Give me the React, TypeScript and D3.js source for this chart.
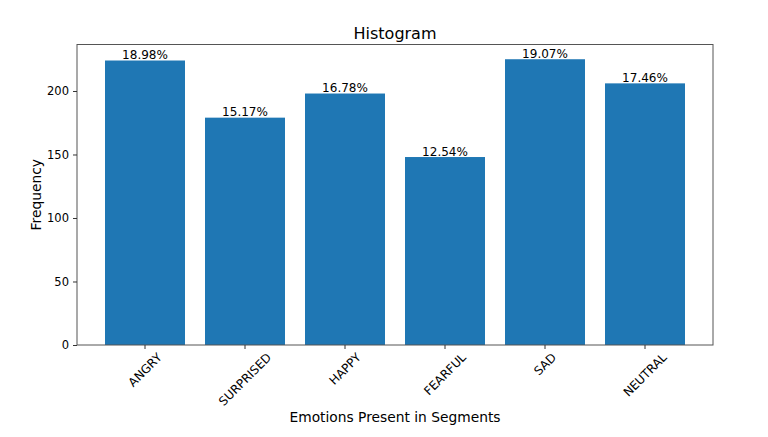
import { useEffect, useRef } from "react";
import * as d3 from "d3";

const emotions = ["ANGRY", "SURPRISED", "HAPPY", "FEARFUL", "SAD", "NEUTRAL"];
const counts = [224, 179, 198, 148, 225, 206];
const percentLabels = ["18.98%", "15.17%", "16.78%", "12.54%", "19.07%", "17.46%"];
const yTicks = [0, 50, 100, 150, 200];

const W = 768;
const H = 437;
const left = 77;
const right = 713;
const top = 44.5;
const bottom = 345;
const font = "DejaVu Sans, sans-serif";

const Histogram = () => {
  const svgRef = useRef<SVGSVGElement>(null);

  useEffect(() => {
    const svg = d3.select(svgRef.current);
    svg.selectAll("*").remove();

    const x = d3
      .scaleBand()
      .domain(emotions)
      .range([left, right])
      .paddingInner(0.2)
      .paddingOuter(0.28);

    const y = d3.scaleLinear().domain([0, 236.6]).range([bottom, top]);

    svg
      .append("rect")
      .attr("width", W)
      .attr("height", H)
      .attr("fill", "white");

    svg
      .selectAll("rect.bar")
      .data(counts)
      .enter()
      .append("rect")
      .attr("class", "bar")
      .attr("x", (d, i) => x(emotions[i]) || 0)
      .attr("width", x.bandwidth())
      .attr("y", (d) => y(d))
      .attr("height", (d) => y(0) - y(d))
      .attr("fill", "#1f77b4");

    // percentages on top of bars
    svg
      .selectAll("text.pct")
      .data(counts)
      .enter()
      .append("text")
      .attr("class", "pct")
      .attr("x", (d, i) => (x(emotions[i]) || 0) + x.bandwidth() / 2)
      .attr("y", (d) => y(d) - 1.5)
      .attr("text-anchor", "middle")
      .attr("font-family", font)
      .attr("font-size", 12)
      .attr("fill", "black")
      .text((d, i) => percentLabels[i]);

    // frame
    svg
      .append("rect")
      .attr("x", left)
      .attr("y", top)
      .attr("width", right - left)
      .attr("height", bottom - top)
      .attr("fill", "none")
      .attr("stroke", "#555")
      .attr("stroke-width", 1);

    const yAxis = svg
      .append("g")
      .attr("transform", `translate(${left},0)`)
      .call(d3.axisLeft(y).tickValues(yTicks).tickSize(4).tickPadding(4));
    yAxis.select(".domain").remove();
    yAxis.selectAll("line").attr("stroke", "#333");
    yAxis
      .selectAll("text")
      .attr("font-family", font)
      .attr("font-size", 11.5)
      .attr("fill", "black");

    const xAxis = svg
      .append("g")
      .attr("transform", `translate(0,${bottom})`)
      .call(d3.axisBottom(x).tickSize(4).tickPadding(4));
    xAxis.select(".domain").remove();
    xAxis.selectAll("line").attr("stroke", "#333");
    // rotated 45°, box centred under the tick (matplotlib ha="center")
    xAxis
      .selectAll<SVGTextElement, string>("text")
      .attr("font-family", font)
      .attr("font-size", 12)
      .attr("fill", "black")
      .attr("text-anchor", "middle")
      .attr("y", 0)
      .attr("dy", "0.35em")
      .attr("transform", function () {
        const len = this.getComputedTextLength();
        const cy = 7 + ((len + 9) * Math.SQRT1_2) / 2;
        return `translate(0,${cy}) rotate(-45)`;
      });

    svg
      .append("text")
      .attr("x", (left + right) / 2)
      .attr("y", 39)
      .attr("text-anchor", "middle")
      .attr("font-family", font)
      .attr("font-size", 16)
      .text("Histogram");

    svg
      .append("text")
      .attr("x", (left + right) / 2)
      .attr("y", 422)
      .attr("text-anchor", "middle")
      .attr("font-family", font)
      .attr("font-size", 13.8)
      .text("Emotions Present in Segments");

    svg
      .append("text")
      .attr("transform", `translate(41,${(top + bottom) / 2}) rotate(-90)`)
      .attr("text-anchor", "middle")
      .attr("font-family", font)
      .attr("font-size", 13.8)
      .text("Frequency");
  }, []);

  return <svg ref={svgRef} width={W} height={H} style={{ display: "block" }} />;
};

export default function App() {
  return (
    <div style={{ margin: -8 }}>
      <Histogram />
    </div>
  );
}
